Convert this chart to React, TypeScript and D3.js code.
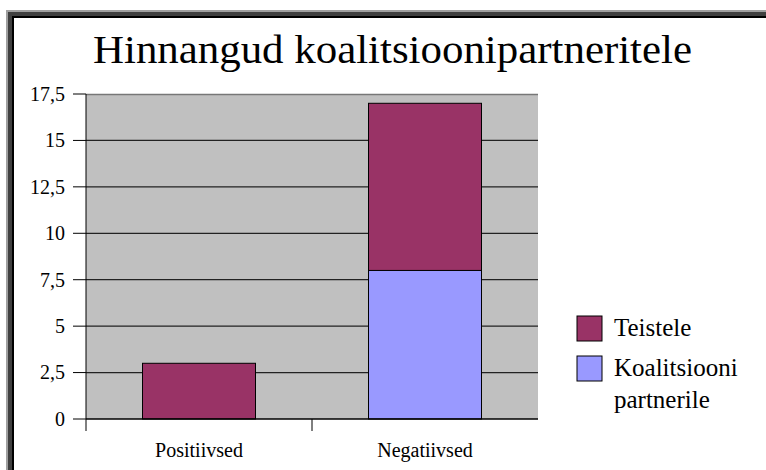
import React from 'react';
import * as d3 from 'd3';

const categories = ['Positiivsed', 'Negatiivsed'];
const seriesNames = ['Koalitsiooni partnerile', 'Teistele'];
const koalitsiooniPartnerile = [0, 8];
const teistele = [3, 9];
const yTicks = [0, 2.5, 5, 7.5, 10, 12.5, 15, 17.5];
const colors = ['#9999FF', '#993366'];

const font = "'Times New Roman', 'Liberation Serif', Tinos, FreeSerif";

const W = 766;
const H = 470;
const plot = { left: 86, right: 538, top: 94, bottom: 419 };

function App() {
  const x = d3.scaleBand()
    .domain(categories)
    .range([plot.left, plot.right])
    .paddingInner(0.5)
    .paddingOuter(0.25);

  const y = d3.scaleLinear()
    .domain([0, 17.5])
    .range([plot.bottom, plot.top]);

  const table = categories.map((c, i) => ({
    cat: c,
    [seriesNames[0]]: koalitsiooniPartnerile[i],
    [seriesNames[1]]: teistele[i],
  }));
  const stacked = d3.stack<any>().keys(seriesNames)(table);
  const fmt = (d: number) => String(d).replace('.', ',');
  const gap = (x.step() - x.bandwidth()) / 2;

  const legendItems = [
    { color: colors[1], lines: ['Teistele'] },
    { color: colors[0], lines: ['Koalitsiooni', 'partnerile'] },
  ];

  return (
    <svg width={W} height={H} style={{ position: 'absolute', left: 0, top: 0 }}>
      <style>{`text { font-family: ${font}; }`}</style>
      {/* frame, only top and left visible */}
      <rect x={6} y={10} width={W} height={H} fill="#a0a0a0" />
      <rect x={8} y={12} width={W} height={H} fill="#404040" />
      <rect x={12} y={16} width={W} height={H} fill="#000" />
      <rect x={14} y={18} width={W} height={H} fill="#fff" />

      <text x={93} y={63} fontSize={40} fill="#000" fontFamily={font} textLength={599} lengthAdjust="spacingAndGlyphs">
        Hinnangud koalitsioonipartneritele
      </text>

      <rect x={plot.left} y={plot.top} width={plot.right - plot.left} height={plot.bottom - plot.top} fill="#c0c0c0" />

      {yTicks.filter(t => t > 0 && t < 17.5).map(t => (
        <line key={t} x1={plot.left} x2={plot.right} y1={y(t)} y2={y(t)} stroke="#222" strokeWidth={1.3} />
      ))}
      <line x1={plot.left} x2={plot.right} y1={plot.top + 0.5} y2={plot.top + 0.5} stroke="#777" strokeWidth={1.5} />

      {stacked.map((layer, li) =>
        layer.filter(d => d[1] - d[0] > 0).map(d => (
          <rect
            key={li + d.data.cat}
            x={x(d.data.cat)}
            width={x.bandwidth()}
            y={y(d[1])}
            height={y(d[0]) - y(d[1])}
            fill={colors[li]}
            stroke="#000"
            strokeWidth={1}
          />
        ))
      )}

      {/* y axis */}
      <line x1={plot.left} x2={plot.left} y1={plot.top} y2={plot.bottom + 12} stroke="#000" />
      {yTicks.map(t => (
        <g key={t}>
          <line x1={plot.left - 13} x2={plot.left} y1={y(t)} y2={y(t)} stroke="#000" />
          <text x={plot.left - 21} y={y(t)} dy="0.34em" textAnchor="end" fontSize={20} fill="#000" fontFamily={font}>{fmt(t)}</text>
        </g>
      ))}

      {/* x axis */}
      <line x1={plot.left} x2={plot.right} y1={plot.bottom} y2={plot.bottom} stroke="#000" strokeWidth={1.3} />
      {categories.slice(1).map(c => (
        <line key={c} x1={x(c)! - gap} x2={x(c)! - gap} y1={plot.bottom} y2={plot.bottom + 12} stroke="#000" />
      ))}
      {categories.map(c => (
        <text key={c} x={x(c)! + x.bandwidth() / 2} y={457} textAnchor="middle" fontSize={20} fill="#000" fontFamily={font}>{c}</text>
      ))}

      {/* legend */}
      {legendItems.map((it, i) => {
        const top = 316 + i * 40;
        return (
          <g key={i}>
            <rect x={577} y={top} width={25} height={25} fill={it.color} stroke="#000" />
            {it.lines.map((ln, j) => (
              <text key={j} x={614} y={top + 20 + j * 32} fontSize={25} fill="#000" fontFamily={font}>{ln}</text>
            ))}
          </g>
        );
      })}
    </svg>
  );
}

export default App;
